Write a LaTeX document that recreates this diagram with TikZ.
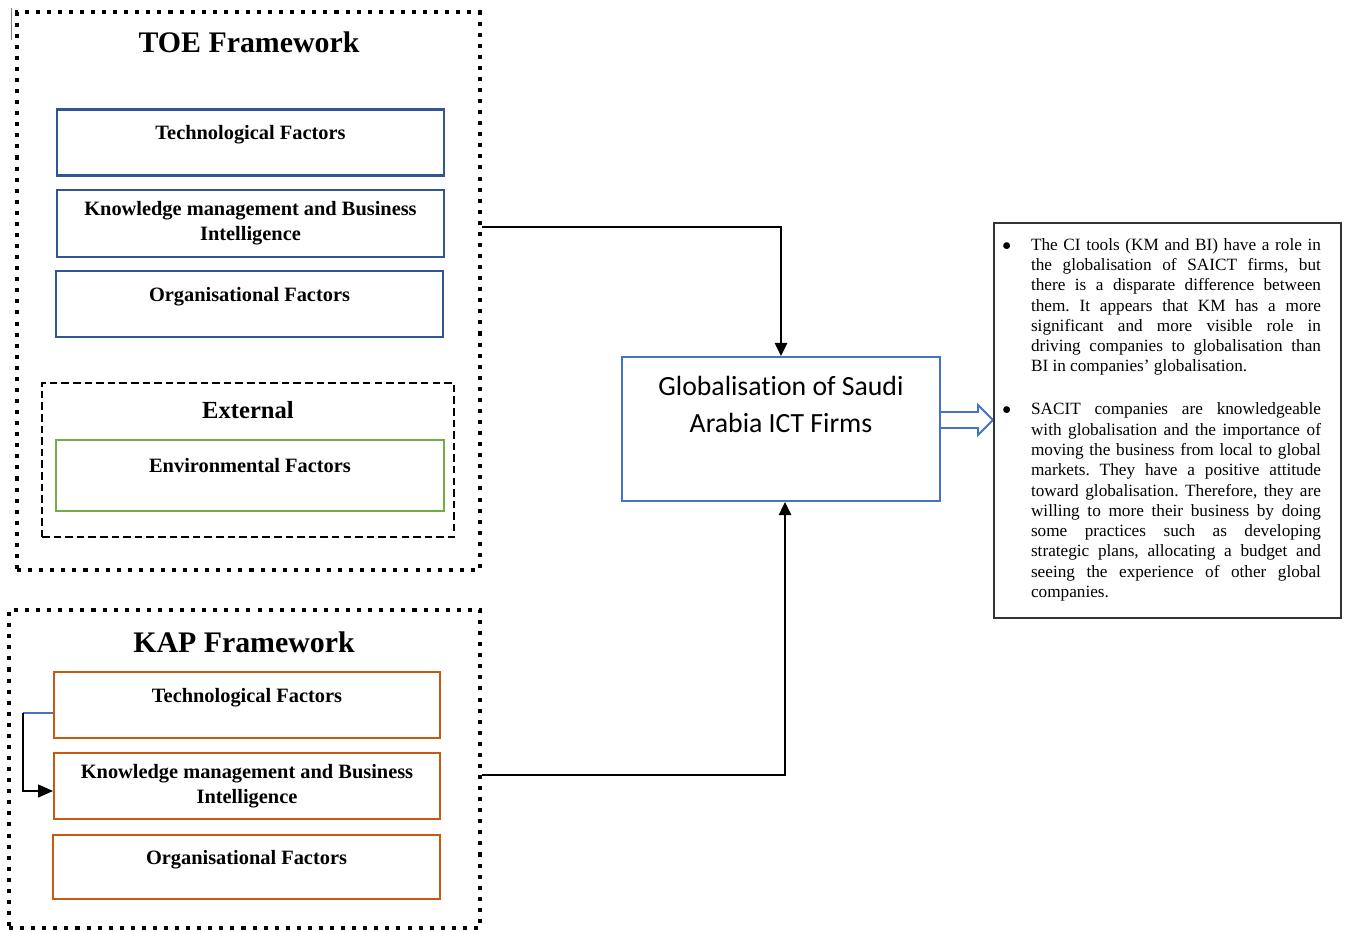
\documentclass[tikz,border=0pt]{standalone}
\usepackage{fontspec}
\setmainfont{Liberation Serif}
\newfontfamily\calibrifont[Ligatures=NoCommon]{Carlito}
\usetikzlibrary{arrows.meta}
\definecolor{toeblue}{HTML}{2F5597}
\definecolor{globblue}{HTML}{4472C4}
\definecolor{kaporange}{HTML}{C55A11}
\definecolor{envgreen}{HTML}{70AD47}
\begin{document}
\begin{tikzpicture}[x=.02cm,y=-.02cm,
  dotframe/.style={draw,line width=2.3pt,dash pattern=on 2.3pt off 4pt},
  dashframe/.style={draw,line width=1.1pt,dash pattern=on 4.3pt off 2.3pt},
  factor/.style={draw,line width=1.2pt,align=center,inner sep=0pt,
    font=\bfseries\fontsize{11.6}{14.2}\selectfont,minimum width=7.74cm,minimum height=1.32cm},
  frametitle/.style={inner sep=0pt,font=\bfseries\fontsize{17}{20}\selectfont},
  flow/.style={line width=1.3pt,-{Triangle[length=7.5pt,width=7pt]}}]
\useasboundingbox (0,0) rectangle (1346,931);
\draw[gray,line width=.5pt] (11,8)--(11,40);
% TOE framework
\node[dotframe,minimum width=9.26cm,minimum height=11.16cm] (toe) at (248.5,291) {};
\node[frametitle] (toetitle) at (249,42) {TOE Framework};
\node[factor,draw=toeblue] (toetech) at (250.5,142.5) {Technological Factors\\[-3pt]\mbox{}};
\node[factor,draw=toeblue,minimum height=1.34cm] (toekm) at (250.5,223.5) {Knowledge management and Business\\Intelligence};
\node[factor,draw=toeblue] (toeorg) at (249.5,304) {Organisational Factors\\[-3pt]\mbox{}};
\node[dashframe,minimum width=8.24cm,minimum height=3.08cm] (external) at (248,460) {};
\node[frametitle,font=\bfseries\fontsize{14}{17}\selectfont] (exttitle) at (248,410) {External};
\node[factor,draw=envgreen,minimum width=7.76cm,minimum height=1.42cm] (env) at (250,475.5) {Environmental Factors\\[-3pt]\mbox{}};
% KAP framework
\node[dotframe,minimum width=9.42cm,minimum height=6.36cm] (kap) at (244.5,769) {};
\node[frametitle] (kaptitle) at (244,642) {KAP Framework};
\node[factor,draw=kaporange,minimum width=7.72cm] (kaptech) at (247,705) {Technological Factors\\[-3pt]\mbox{}};
\node[factor,draw=kaporange,minimum width=7.72cm] (kapkm) at (247,786) {Knowledge management and Business\\Intelligence};
\node[factor,draw=kaporange,minimum height=1.28cm] (kaporg) at (246.5,867) {Organisational Factors\\[-3pt]\mbox{}};
\draw[globblue,line width=.6pt] ([yshift=-.16cm]kaptech.west) -- ++(-30,0) coordinate (kapbend);
\draw[line width=.6pt,-{Triangle[length=8.5pt,width=7.4pt]}] (kapbend) |- ([yshift=-.1cm]kapkm.west);
% result
\node[draw=globblue,line width=1.2pt,minimum width=6.36cm,minimum height=2.88cm,align=center,
  font=\calibrifont\fontsize{15.8}{21}\selectfont] (glob) at (781,429) {Globalisation of Saudi\\Arabia ICT Firms\\[6.8pt]\mbox{}};
\draw[flow] ([yshift=-.07cm]toe.east |- toekm) -| (glob.north);
\draw[flow] ([yshift=-.12cm]kap.east) -| ([xshift=.08cm]glob.south);
\draw[globblue,line width=1.1pt] ([yshift=.18cm]glob.east) ++(0,-8) -- ++(37,0) -- ++(0,-7)
  -- ++(15,15) -- ++(-15,15) -- ++(0,-7) -- ++(-37,0);
\node[draw=black!80,line width=.8pt,minimum height=7.9cm,text width=6.14cm,inner xsep=.4cm,align=justify,
  font=\fontsize{9.8}{11.55}\selectfont] (findings) at (1167.5,420.5) {\hyphenpenalty=10000\frenchspacing
\begin{list}{$\bullet$}{\setlength\leftmargin{.34cm}\setlength\labelsep{.4cm}\setlength\labelwidth{.2cm}%
  \setlength\itemsep{12.9pt}\setlength\topsep{0pt}\setlength\parsep{0pt}\setlength\partopsep{0pt}}
\item The CI tools (KM and BI) have a role in\linebreak
the globalisation of SAICT firms, but\linebreak
there is a disparate difference between\linebreak
them. It appears that KM has a more\linebreak
significant and more visible role in\linebreak
driving companies to globalisation than\linebreak
BI in companies’ globalisation.
\item SACIT companies are knowledgeable\linebreak
with globalisation and the importance of\linebreak
moving the business from local to global\linebreak
markets. They have a positive attitude\linebreak
toward globalisation. Therefore, they are\linebreak
willing to more their business by doing\linebreak
some practices such as developing\linebreak
strategic plans, allocating a budget and\linebreak
seeing the experience of other global\linebreak
companies.
\end{list}\par\vspace{5.7pt}\hrule height 0pt};
\end{tikzpicture}
\end{document}
